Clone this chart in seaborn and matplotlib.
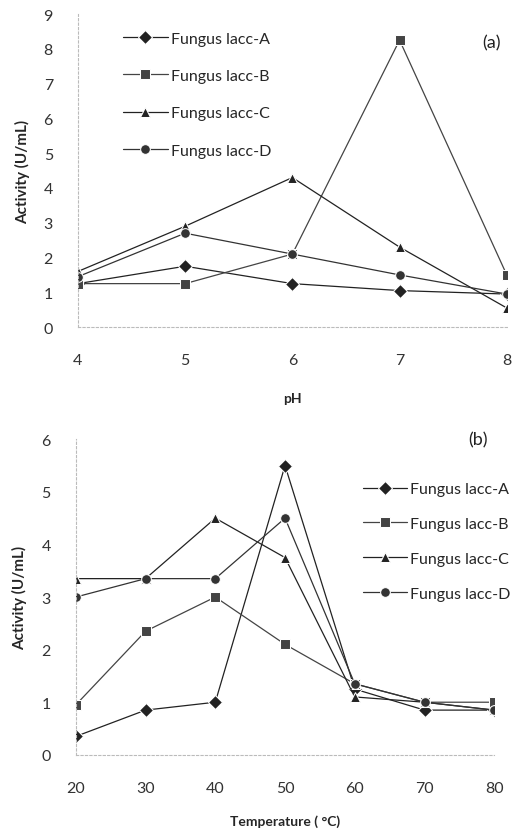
import pandas as pd
import matplotlib
matplotlib.use("Agg")
import matplotlib.pyplot as plt
import seaborn as sns

# pH series (panel a)
ph = [4, 5, 6, 7, 8]
ph_a = [1.25, 1.75, 1.25, 1.05, 0.95]
ph_b = [1.25, 1.25, 2.1, 8.25, 1.5]
ph_c = [1.6, 2.9, 4.3, 2.3, 0.55]
ph_d = [1.45, 2.7, 2.1, 1.5, 0.95]

# temperature series (panel b)
temp = [20, 30, 40, 50, 60, 70, 80]
t_a = [0.35, 0.85, 1.0, 5.5, 1.25, 0.85, 0.85]
t_b = [0.95, 2.35, 3.0, 2.1, 1.35, 1.0, 1.0]
t_c = [3.35, 3.35, 4.5, 3.75, 1.1, 1.0, 0.85]
t_d = [3.0, 3.35, 3.35, 4.5, 1.35, 1.0, 0.85]

names = ["Fungus lacc-A", "Fungus lacc-B", "Fungus lacc-C", "Fungus lacc-D"]
markers = {"Fungus lacc-A": "D", "Fungus lacc-B": "s",
           "Fungus lacc-C": "^", "Fungus lacc-D": "o"}
colors = {"Fungus lacc-A": "#222222", "Fungus lacc-B": "#444444",
          "Fungus lacc-C": "#222222", "Fungus lacc-D": "#333333"}


def long_df(x, series):
    rows = []
    for name, vals in zip(names, series):
        for xv, yv in zip(x, vals):
            rows.append({"x": xv, "y": yv, "series": name})
    return pd.DataFrame(rows)


df_ph = long_df(ph, [ph_a, ph_b, ph_c, ph_d])
df_t = long_df(temp, [t_a, t_b, t_c, t_d])

sns.set_style("white")
plt.rcParams["font.family"] = ["Lato", "DejaVu Sans"]

fig = plt.figure(figsize=(5.23, 8.37), dpi=100)
ax1 = fig.add_axes([0.149, 0.608, 0.82, 0.374])
ax2 = fig.add_axes([0.145, 0.097, 0.80, 0.377])


def draw(ax, df, xticks, ylim, xlabel, tag, tag_y, leg_pos, lspace, xpad, lpad):
    sns.lineplot(data=df, x="x", y="y", hue="series", style="series",
                 markers=markers, dashes=False, palette=colors,
                 markersize=7, linewidth=0.9, ax=ax, legend=True)
    ax.set_xlim(xticks[0], xticks[-1])
    ax.set_ylim(*ylim)
    ax.set_xticks(xticks)
    ax.set_yticks(range(ylim[0], ylim[1] + 1))
    ax.tick_params(length=0, labelsize=11.5, colors="#333333")
    ax.tick_params(axis="x", pad=xpad)
    ax.tick_params(axis="y", pad=18)
    for s in ["top", "right"]:
        ax.spines[s].set_visible(False)
    for s in ["left", "bottom"]:
        ax.spines[s].set_color("#bbbbbb")
        ax.spines[s].set_linestyle((0, (2, 2)))
        ax.spines[s].set_linewidth(0.8)
    ax.set_ylabel("Activity (U/mL)", fontsize=11, fontweight="bold", labelpad=10)
    ax.set_xlabel(xlabel, fontsize=10, fontweight="bold", labelpad=lpad)
    ax.text(0.985, tag_y, tag, transform=ax.transAxes, ha="right", va="center",
            fontsize=13, color="#222222")
    ax.legend(frameon=False, loc="upper left", bbox_to_anchor=leg_pos,
              fontsize=11.5, handlelength=2.8, labelspacing=lspace,
              handletextpad=0.2, borderaxespad=0)


draw(ax1, df_ph, ph, (0, 9), "pH", "(a)", 0.91, (0.09, 0.965), 1.45, 19, 18)
draw(ax2, df_t, temp, (0, 6), "Temperature ( \u00b0C)", "(b)", 1.0, (0.67, 0.885), 1.3, 19, 14)

fig.savefig("out.png", dpi=100)
